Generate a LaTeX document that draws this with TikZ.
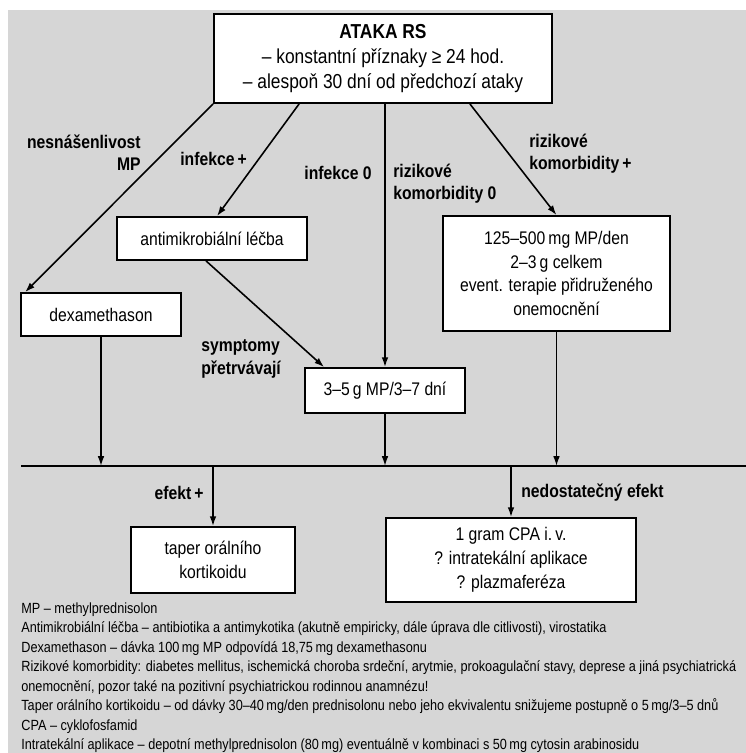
\documentclass[tikz,border=0pt]{standalone}
\usepackage{fontspec}
\setmainfont{Liberation Sans}[FakeStretch=0.86]
\usetikzlibrary{arrows.meta,positioning}

\definecolor{paper}{RGB}{214,214,214}

% one unit = one pixel of the scan
\def\px{0.02cm}

\begin{document}
\begin{tikzpicture}[x=\px, y=-\px,
    box/.style={draw, fill=white, line width=1pt, align=center, inner sep=0pt,
                font=\fontsize{10.4}{13.6}\selectfont},
    cond/.style={font=\fontsize{10.4}{12.6}\selectfont\bfseries, inner sep=0pt},
    wire/.style={line width=0.9pt},
    note/.style={font=\fontsize{8.4}{11.1}\selectfont, align=left, inner sep=0pt},
    >={Latex[length=5.6pt,width=3.8pt]}
]

\useasboundingbox (0,0) rectangle (746,753);
\fill[paper] (8,10) rectangle (746,753);
\clip (0,0) rectangle (746,753);

% --- BOXES ---
\node[box, minimum width=338*\px, minimum height=89*\px,
      font=\fontsize{11.5}{14.2}\selectfont] (ataka) at (383,58.5)
  {\textbf{ATAKA RS}\\– konstantní příznaky ≥ 24 hod.\\– alespoň 30 dní od předchozí ataky};

\node[box, minimum width=160*\px, minimum height=43*\px] (dexa) at (101,314.5)
  {dexamethason};

\node[box, minimum width=190*\px, minimum height=43*\px] (antimikro) at (212,238.5)
  {antimikrobiální léčba};

\node[box, minimum width=160*\px, minimum height=45*\px] (mp35) at (385,390.5)
  {3–5\,g MP/3–7 dní};

\node[box, minimum width=227*\px, minimum height=115*\px] (riz) at (556.5,273.5)
  {125–500\,mg MP/den\\2–3\,g celkem\\event. terapie přidruženého\\onemocnění};

\node[box, minimum width=164*\px, minimum height=66*\px] (taper) at (213,560)
  {taper orálního\\kortikoidu};

\node[box, minimum width=250*\px, minimum height=84*\px] (cpa) at (511,560)
  {1 gram CPA i.\,v.\\? intratekální aplikace\\? plazmaferéza};

% --- CONDITIONS ---
\node[cond, align=right, anchor=east] (lnes) at (141,153) {nesnášenlivost\\MP};
\node[cond, anchor=west] (linfp) at (180,159) {infekce\,+};
\node[cond, anchor=east] (linf0) at (372,173) {infekce 0};
\node[cond, align=left, anchor=west] (lriz0) at (393,184) {rizikové\\komorbidity 0};
\node[cond, align=left, anchor=west] (lrizp) at (529,154) {rizikové\\komorbidity\,+};
\node[cond, align=left, anchor=west] (lsym) at (201,359) {symptomy\\přetrvávají};
\node[cond, anchor=east] (lefp) at (204,493) {efekt\,+};
\node[cond, anchor=west] (lned) at (521,493) {nedostatečný efekt};

% --- ATAKA -> BRANCHES ---
\draw[wire,->] (ataka.south west) -- ([xshift=5*\px]dexa.north west);
\draw[wire,->] ([xshift=86*\px]ataka.south west) -- ([xshift=5*\px]antimikro.north);
\draw[wire,->] (ataka.south -| mp35.north) -- (mp35.north);
\draw[wire,->] ([xshift=-83*\px]ataka.south east) -- (riz.north);
\draw[wire,->] ([xshift=-6*\px]antimikro.south) -- ([xshift=20*\px]mp35.north west);

% --- COLLECTING LINE ---
\coordinate (hl) at (21,466);
\coordinate (hr) at (746,466);
\draw[line width=1.1pt] (hl) -- (hr);

\draw[wire,->] (dexa.south) -- (dexa.south |- hl);
\draw[wire,->] (mp35.south) -- (mp35.south |- hl);
\draw[wire,->] (riz.south) -- (riz.south |- hl);

\draw[wire,->] (taper.north |- hl) -- (taper.north);
\draw[wire,->] (cpa.north |- hl) -- (cpa.north);

% --- NOTES ---
\node[note, anchor=north west] (notes) at (21,602)
  {MP – methylprednisolon\\
   Antimikrobiální léčba – antibiotika a antimykotika (akutně empiricky, dále úprava dle citlivosti), virostatika\\
   Dexamethason – dávka 100\,mg MP odpovídá 18,75\,mg dexamethasonu\\
   Rizikové komorbidity: diabetes mellitus, ischemická choroba srdeční, arytmie, prokoagulační stavy, deprese a jiná psychiatrická\\
   onemocnění, pozor také na pozitivní psychiatrickou rodinnou anamnézu!\\
   Taper orálního kortikoidu – od dávky 30–40\,mg/den prednisolonu nebo jeho ekvivalentu snižujeme postupně o 5\,mg/3–5 dnů\\
   CPA – cyklofosfamid\\
   Intratekální aplikace – depotní methylprednisolon (80\,mg) eventuálně v kombinaci s 50\,mg cytosin arabinosidu};

\end{tikzpicture}
\end{document}
